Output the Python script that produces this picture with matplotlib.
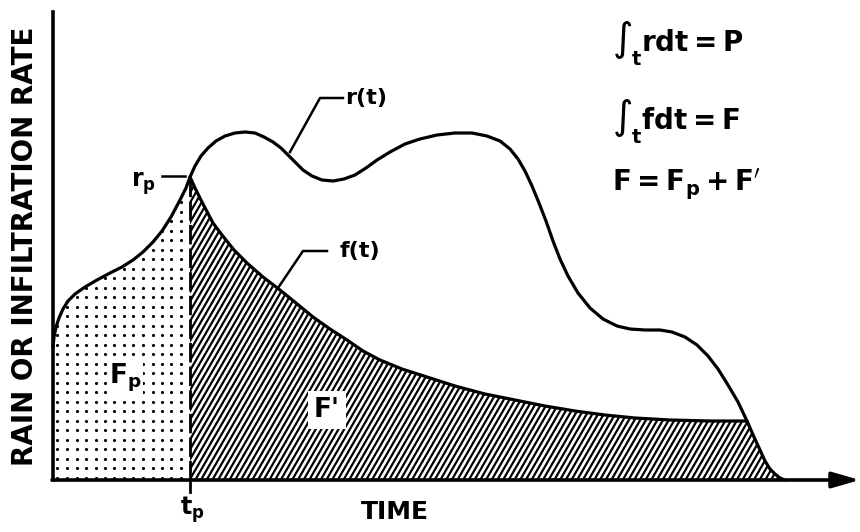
import matplotlib
matplotlib.use("Agg")
import matplotlib.pyplot as plt
from matplotlib.patches import Polygon
from matplotlib.collections import LineCollection
import numpy as np

plt.rcParams['font.family'] = ['DejaVu Sans']
plt.rcParams['font.weight'] = 'bold'
plt.rcParams['mathtext.fontset'] = 'dejavusans'
plt.rcParams['mathtext.default'] = 'bf'

# rainfall rate r(t)
rain_t = [0.0, 0.1, 0.3, 0.6, 1.0, 1.5, 2.2, 3.2, 4.4, 5.7, 6.9, 8.0, 9.0,
          10.0, 10.9, 11.8, 12.7, 13.3, 13.7,
          14.2, 14.8, 15.5, 16.3, 17.2, 18.2, 19.2, 20.2, 21.1, 22.0, 22.8,
          23.5, 24.2, 25.0, 25.9, 26.9, 28.0, 29.1, 30.2, 31.3, 32.4, 33.7,
          35.2, 36.7, 38.4, 40.2, 41.9, 43.4, 44.7, 45.7, 46.5, 47.2, 47.9,
          48.6, 49.3, 50.0, 50.7, 51.5, 52.5, 53.7, 55.0, 56.4, 57.7, 59.2,
          60.7, 61.9, 63.2, 64.4, 65.5, 66.5, 67.5, 68.5, 69.4, 70.1, 70.7,
          71.2, 71.7, 72.2, 72.7, 73.2]
rain_r = [13.3, 14.3, 15.3, 16.2, 17.1, 17.9, 18.6, 19.3, 20.0, 20.7, 21.3,
          22.0, 22.8, 23.8, 24.9, 26.3, 28.0, 29.2, 30.3,
          31.4, 32.4, 33.2, 33.9, 34.4, 34.7, 34.8, 34.7, 34.3, 33.8, 33.2,
          32.5, 31.8, 31.0, 30.4, 30.0, 29.9, 30.1, 30.5, 31.2, 32.0, 32.8,
          33.6, 34.1, 34.5, 34.7, 34.7, 34.4, 33.9, 33.1, 32.1, 30.9, 29.4,
          27.7, 25.9, 23.9, 22.1, 20.4, 18.7, 17.2, 16.1, 15.4, 15.1, 15.0,
          15.0, 14.8, 14.3, 13.5, 12.4, 11.1, 9.5, 7.8, 5.9, 4.3, 3.0,
          1.9, 1.1, 0.6, 0.2, 0.0]

# infiltration rate f(t) after ponding
infil_t = [13.7, 14.3, 15.0, 16.0, 16.9, 18.1, 19.4, 21.0, 22.7, 24.3, 26.0,
           27.7, 29.4, 31.0, 32.7, 34.9, 37.4, 40.2, 43.2, 46.2, 49.2, 52.2,
           55.2, 58.2, 61.7, 65.7, 69.4]
infil_f = [30.3, 29.0, 27.6, 25.7, 24.5, 23.0, 21.7, 20.3, 19.0, 17.7, 16.3,
           15.1, 14.0, 12.9, 12.0, 11.1, 10.3, 9.4, 8.6, 8.0, 7.4, 6.9,
           6.5, 6.2, 6.0, 5.9, 5.9]

t_p = 13.7
r_p = 30.3

rain_t = np.array(rain_t)
rain_r = np.array(rain_r)

fig = plt.figure(figsize=(8.6, 5.32), dpi=100)
ax = fig.add_axes([0, 0, 1, 1])
ax.set_xlim(-5.3, 80.7)
ax.set_ylim(-5.2, 48.0)
ax.axis('off')

# F_p : stippled area under r(t) before ponding
pre = rain_t <= t_p
pre_verts = list(zip(rain_t[pre], rain_r[pre])) + [(t_p, 0), (0, 0)]
pre_patch = Polygon(pre_verts, closed=True, facecolor='white', edgecolor='none')
ax.add_patch(pre_patch)
gx, gy = np.meshgrid(np.arange(0.45, t_p, 0.95), np.arange(0.25, 31, 0.95))
dots = ax.scatter(gx.ravel(), gy.ravel(), s=5, color='black', linewidths=0)
dots.set_clip_path(pre_patch)

# F' : hatched area under f(t), then under the falling limb of r(t)
tail = rain_t > infil_t[-1]
hatch_t = np.concatenate([infil_t, rain_t[tail]])
hatch_y = np.concatenate([infil_f, rain_r[tail]])
post_verts = list(zip(hatch_t, hatch_y)) + [(t_p, 0)]
post_patch = Polygon(post_verts, closed=True, facecolor='white', edgecolor='none')
ax.add_patch(post_patch)
slope = np.tan(np.radians(60))
starts = np.arange(t_p - 20, 75, 0.57)
segs = [[(x0, 0), (x0 + 32 / slope, 32)] for x0 in starts]
hatch = LineCollection(segs, colors='black', linewidths=1.6)
ax.add_collection(hatch)
hatch.set_clip_path(post_patch)

ax.plot(rain_t, rain_r, color='black', lw=2.3, solid_capstyle='round',
        solid_joinstyle='round')
ax.plot(infil_t, infil_f, color='black', lw=2.3, solid_capstyle='round',
        solid_joinstyle='round')

# ponding time marker
ax.plot([t_p, t_p], [0, r_p], color='black', lw=2.0, linestyle=(0, (7, 1.5)))
ax.plot([t_p, t_p], [0, -1.2], color='black', lw=2.0)

# axes
ax.plot([0, 0], [0, 46.8], color='black', lw=2.6)
ax.annotate('', xy=(80.7, 0), xytext=(-0.1, 0),
            arrowprops=dict(arrowstyle='-|>,head_length=0.7,head_width=0.2',
                            lw=2.6, color='black', mutation_scale=24,
                            shrinkA=0, shrinkB=0))

# leaders and labels
ax.plot([10.9, 13.2], [30.4, 30.4], color='black', lw=1.8)
ax.text(10.3, 29.6, r'$r_p$', fontsize=17, ha='right', va='center')

ax.plot([23.7, 26.7, 29.0], [32.8, 38.2, 38.2], color='black', lw=1.8)
ax.text(29.2, 38.2, 'r(t)', fontsize=16, ha='left', va='center')

ax.plot([22.5, 25.0, 27.4], [19.2, 22.9, 22.9], color='black', lw=1.8)
ax.text(28.7, 22.9, 'f(t)', fontsize=16, ha='left', va='center')

ax.text(7.2, 10.2, r'$F_p$', fontsize=19, ha='center', va='center',
        bbox=dict(facecolor='white', edgecolor='none', pad=1))
ax.text(27.4, 7.0, "F'", fontsize=19, ha='center', va='center',
        bbox=dict(facecolor='white', edgecolor='none', pad=4))

ax.text(13.9, -3.0, r'$t_p$', fontsize=17, ha='center', va='center')
ax.text(34.2, -3.2, 'TIME', fontsize=18, ha='center', va='center')
ax.text(-2.8, 23.4, 'RAIN OR INFILTRATION RATE', fontsize=20,
        rotation=90, ha='center', va='center')

# integral relations
ax.text(55.9, 43.6, r'$\int_t rdt = P$', fontsize=20, ha='left', va='center')
ax.text(55.9, 35.8, r'$\int_t fdt = F$', fontsize=20, ha='left', va='center')
ax.text(55.9, 29.6, r"$F = F_p + F'$", fontsize=20, ha='left', va='center')

fig.savefig('out.png', dpi=100)
